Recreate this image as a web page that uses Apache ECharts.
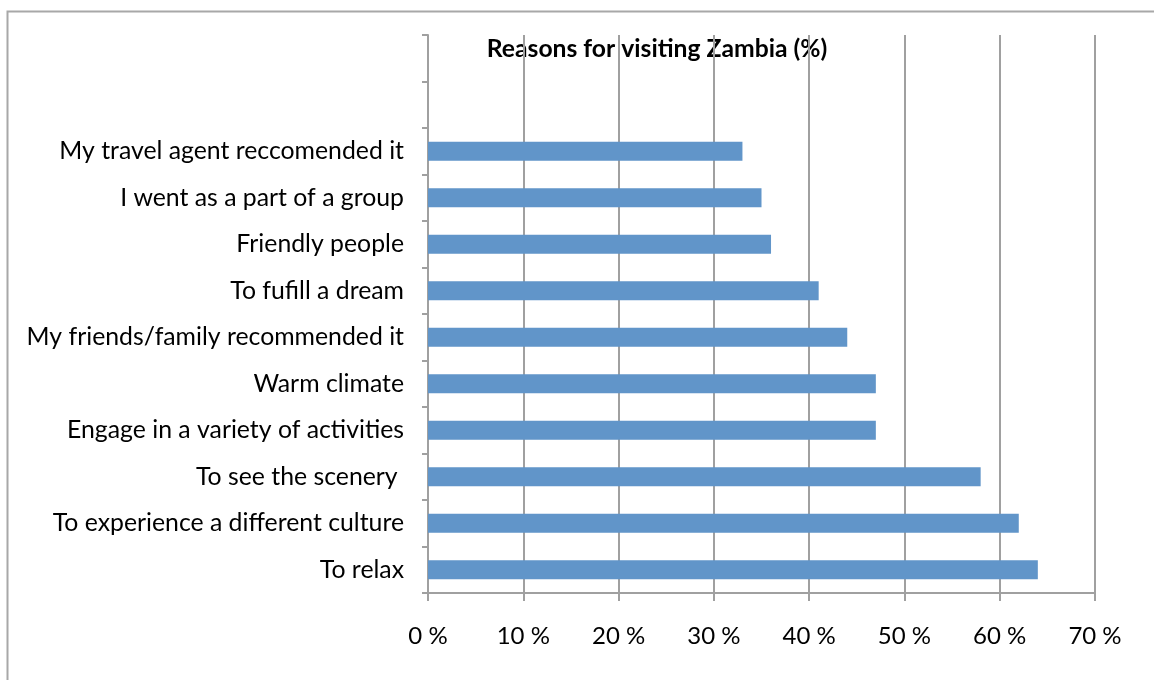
<!DOCTYPE html>
<html>
<head>
<meta charset="utf-8">
<script src="https://cdn.jsdelivr.net/npm/echarts@6/dist/echarts.min.js"></script>
<style>
  html, body { margin: 0; padding: 0; background: #fff; }
  #chart { width: 1154px; height: 680px; }
</style>
</head>
<body>
<div id="chart"></div>
<script>
// Reasons given for visiting Zambia, bottom to top (two empty slots at the top)
const categories = [
  'To relax',
  'To experience a different culture',
  'To see the scenery ',
  'Engage in a variety of activities',
  'Warm climate',
  'My friends/family recommended it',
  'To fufill a dream',
  'Friendly people',
  'I went as a part of a group',
  'My travel agent reccomended it',
  '',
  ''
];
const shares = [64, 62, 58, 47, 47, 44, 41, 36, 35, 33, null, null];
const xTicks = { min: 0, max: 70, interval: 10 };

const FONT = 'Lato';
const axisGray = '#a0a0a0';

const chart = echarts.init(document.getElementById('chart'), null, { renderer: 'canvas' });
chart.setOption({
  animation: false,
  backgroundColor: '#ffffff',
  title: {
    text: 'Reasons for visiting Zambia (%)',
    left: 652,
    top: 32,
    textAlign: 'center',
    z: 1,
    textStyle: { fontFamily: FONT, fontWeight: 'bold', fontSize: 24.7, color: '#000' }
  },
  graphic: [{
    type: 'rect',
    shape: { x: 7.5, y: 11.5, width: 1200, height: 700 },
    style: { fill: null, stroke: '#a8a8a8', lineWidth: 2 },
    silent: true,
    z: 0
  }],
  grid: { left: 428, right: 59, top: 35, bottom: 87, containLabel: false },
  xAxis: {
    type: 'value',
    min: xTicks.min,
    max: xTicks.max,
    interval: xTicks.interval,
    z: 3,
    axisLine: { show: true, lineStyle: { color: axisGray, width: 2 } },
    axisTick: { show: true, length: 8, lineStyle: { color: axisGray, width: 2 } },
    splitLine: { show: true, lineStyle: { color: axisGray, width: 2 } },
    axisLabel: {
      formatter: '{value} %',
      margin: 31,
      fontFamily: FONT,
      fontSize: 24,
      color: '#000'
    }
  },
  yAxis: {
    type: 'category',
    data: categories,
    z: 3,
    axisLine: { show: true, lineStyle: { color: axisGray, width: 2 } },
    axisTick: { show: true, length: 6, lineStyle: { color: axisGray, width: 2 } },
    splitLine: { show: false },
    axisLabel: {
      margin: 24,
      fontFamily: FONT,
      fontSize: 24.8,
      color: '#000'
    }
  },
  series: [{
    type: 'bar',
    data: shares,
    barWidth: 19,
    z: 4,
    itemStyle: { color: '#6195c9' }
  }]
});
</script>
</body>
</html>
